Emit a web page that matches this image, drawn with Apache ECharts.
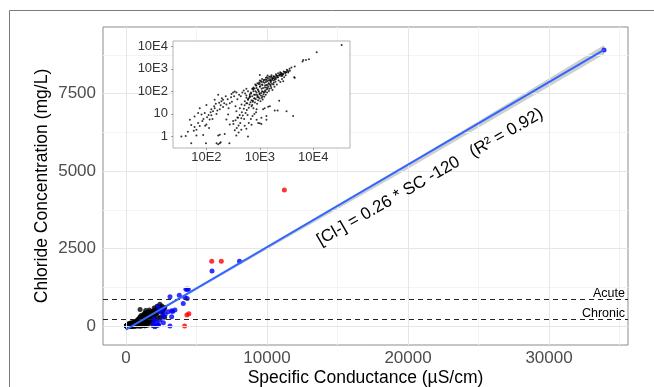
<!DOCTYPE html>
<html><head><meta charset="utf-8">
<script src="https://cdn.jsdelivr.net/npm/echarts@6/dist/echarts.min.js"></script>
<style>html,body{margin:0;padding:0;background:#fff}#c{width:654px;height:387px}</style>
</head><body><div id="c"></div>
<script>
// ---- main axes ----
const xTicks = [0, 10000, 20000, 30000];
const xMinor = [5000, 15000, 25000, 35000];
const yTicks = [0, 2500, 5000, 7500];
const yMinor = [1250, 3750, 6250, 8750];
const xRange = [-1630, 35600];
const yRange = [-613, 9655];

// ---- thresholds ----
const thresholdValues = [860, 230];
const thresholdNames = ['Acute', 'Chronic'];

// ---- regression line and confidence band ----
const regSC = [0, 33900];
const regCl = [-120, 8920];
const bandSC = [0, 10000, 20000, 33900];
const bandLo = [-150, 2480, 5080, 8770];
const bandHi = [-90, 2560, 5230, 9070];
const annoText = '[Cl-] = 0.26 * SC -120   (R\u00B2 = 0.92)';
const annoAt = [21560, 4806];

// ---- coloured points in the main panel ----
const bluePoints = [[33900,8910],[8050,2090],[6100,1780],[4250,1190],[4340,1190],[4420,1190],[3780,997],[3120,943],[4180,920],[4340,890],[4060,730],[3310,470],[3470,520],[3120,0],[2130,30],[2290,30],[2290,620],[2410,460],[2650,515],[3000,460],[3240,490],[1930,85],[2170,140],[2410,190],[2650,105],[2050,-20],[2630,300],[3240,300],[1980,230],[2780,380]];
const redPoints = [[11230,4390],[6080,2090],[6760,2090],[4460,396],[4320,354],[4160,0]];
const blackMaxSC = 2750;

// ---- inset (log-log) ----
const insetXTicks = [100, 1000, 10000];
const insetYTicks = [1, 10, 100, 1000, 10000];
const insetTickText = ['1', '10', '10E2', '10E3', '10E4'];
const insetXGrid = [31.6, 100, 316, 1000, 3162, 10000, 31623];
const insetYGrid = [1, 3.16, 10, 31.6, 100, 316, 1000, 3162, 10000];
const insetXRange = [23.7, 48700];
const insetYRange = [0.308, 17100];
const insetPoints = [
[52,0.5],[98,0.5],[155,0.5],[166,0.45],[178,0.5],[185,0.55],[269,0.5],
[34,1],[41,1.05],[65,1.1],[87,1.15],[166,1.1],[178,1.2],[220,1.3],[363,1.1],[600,1],
[52,3.2],[60,2.6],[75,2.9],[84,4.8],[100,3.4],[115,5.6],[112,2.4],[81,9.4],[93,11],[103,7.2],[124,8.8],[133,13],[154,10],[178,16],[205,20],[237,26],[274,30],[191,36],[173,31],[143,18],[124,16],[365,13],[422,18],[454,26],[392,6.7],[316,4.8],[274,3.4],[255,9.4],[237,5.6],[523,36],[562,52],[649,61],[70,11],[65,2],[49,5.5],[60,7.7],[75,18],[100,25],[143,42],[166,70],[205,42],[316,88],[340,98],[365,88],[295,77],
[45,1.6],[58,1.8],[70,4],[88,6],[95,3],[110,9],[120,12],[130,6],[140,22],[150,28],[160,14],[185,24],[195,50],[215,30],[230,60],[250,45],[260,18],[290,55],[300,35],[330,60],[350,22],[380,45],[410,70],[440,60],[470,90],[500,110],[530,80],[560,130],[600,100],
[320,3.6],[340,1.9],[350,5.2],[370,2.4],[380,7],[400,3.1],[420,9],[430,4],[450,6.5],[460,12],[480,8.5],[500,17],[510,6],[520,24],[540,11],[560,30],[570,15],[590,9],[600,42],[620,19],[640,26],[650,55],[670,33],[690,80],[700,22],[720,60],[740,38],[760,100],[780,48],[800,135],[820,70],[850,180],[870,88],[900,55],[920,120],[950,210],[980,75],[1000,160],[1050,290],[1080,130],[1100,200],[1150,95],[1200,330],[1250,150],[1300,260],[1350,420],[1400,190],[1450,310],[1500,440],[1600,280],[1650,520],[1700,370],[1800,470],[1900,330],[2000,580],[2100,410],[2200,640],[2300,500],[2400,700],[2500,560],[2600,480],[2800,760],[3000,640],[3200,900],[3400,760],[3600,1000],
[650,60],[700,40],[750,120],[800,50],[820,200],[880,70],[900,230],[950,55],[1000,80],[1000,300],[1050,65],[1100,100],[1100,350],[1150,140],[1200,90],[1250,180],[1300,400],[1350,150],[1400,500],[1500,210],[1600,250],[1700,330],[1800,300],[1900,380],[2000,350],[2200,420],[2500,480],[2700,540],
[600,45],[680,90],[720,130],[780,70],[830,100],[860,180],[940,110],[970,250],[1020,170],[1060,260],[1120,190],[1180,300],[1220,240],[1280,330],[1320,190],[1380,280],[1420,380],[1460,230],[1550,350],[1580,450],[1620,300],[1750,380],[1850,460],[1950,420],[2050,520],[2150,480],[2350,540],[2450,600],[2650,580],[2900,720],[3100,720],[3300,840],[580,30],[620,50],[740,35],[760,150],[960,95],[1120,60],[1250,110],[1400,130],[1600,170],[1800,200],
[720,25],[760,18],[810,32],[840,45],[890,28],[910,62],[930,40],[990,48],[1030,36],[1060,85],[1090,52],[1130,44],[1170,75],[1210,58],[1260,95],[1290,70],[1340,120],[1370,88],[1440,160],[1480,105],[1520,130],[1570,190],[1640,140],[1690,210],[1720,115],[1820,240],[1880,160],[1960,270],[2080,200],[2250,300],[2420,260],[2600,350],[2850,420],[3050,520],
[400,1.5],[450,2],[520,3],[560,2.2],[620,4],[680,6],[730,8],[790,10],[850,12],
[2300,38],[2150,14],[3160,13],[4200,8],[1430,21],[1150,16],[870,16],[1330,5.5],[870,5.5],[1000,3.9],[700,3.3],[1900,14],[1230,18],[1070,6.7],[930,4],[1070,3.6],[1330,8],[1540,22],
[4500,1250],[4400,420],[4500,400],[6300,2100],[6500,2450],[7300,2450],[8300,2650],[11600,5400],[34000,11400],[3650,820],[3900,1150],[3400,690],[3100,700],[2750,600],[2540,650],[2370,560],[2050,490],[1780,380],[1650,430],[1540,300],[1330,330],[1150,260],[1000,210],[870,140],[750,130],[650,75],[560,66],[1000,530],[2740,280]
];

const FONT = '"Liberation Sans", Arial, sans-serif';
const chart = echarts.init(document.getElementById('c'), null, {renderer: 'canvas'});

const mainBlack = insetPoints.filter(p => p[0] <= blackMaxSC);
const gridLine = (key, v, color) => ({[key]: v, lineStyle: {color: color, width: 1, type: 'solid'}});
const insetLabel = v => insetTickText[Math.round(Math.log10(v))];
const plainLabel = v => String(Math.round(v));

const option = {
  animation: false,
  textStyle: {fontFamily: FONT},
  grid: [
    {left: 103, right: 26, top: 27, bottom: 42, show: true, backgroundColor: '#fff', borderColor: '#8c8c8c', borderWidth: 1, z: 0, containLabel: false, outerBoundsMode: 'none'},
    {left: 173, top: 41, width: 177, height: 107, show: true, backgroundColor: '#fff', borderColor: '#b3b3b3', borderWidth: 1, z: 10, containLabel: false, outerBoundsMode: 'none'}
  ],
  xAxis: [
    {type: 'value', gridIndex: 0, min: xRange[0], max: xRange[1],
     name: 'Specific Conductance (\u00B5S/cm)', nameLocation: 'middle', nameGap: 24, nameMoveOverlap: false,
     nameTextStyle: {fontSize: 17.5, color: '#000', fontFamily: FONT},
     axisLine: {show: false}, splitLine: {show: false},
     axisTick: {show: true, customValues: xTicks, length: 4, lineStyle: {color: '#333'}},
     axisLabel: {customValues: xTicks, formatter: plainLabel, fontSize: 17, color: '#4d4d4d', margin: 5, fontFamily: FONT}},
    {type: 'log', gridIndex: 1, min: insetXRange[0], max: insetXRange[1], logBase: 10, z: 10,
     axisLine: {show: false}, splitLine: {show: false},
     axisTick: {show: true, customValues: insetXTicks, length: 2, lineStyle: {color: '#999'}},
     axisLabel: {customValues: insetXTicks, formatter: insetLabel, fontSize: 13, color: '#333', margin: 3, fontFamily: FONT}}
  ],
  yAxis: [
    {type: 'value', gridIndex: 0, min: yRange[0], max: yRange[1],
     name: 'Chloride Concentration (mg/L)', nameLocation: 'middle', nameGap: 52, nameMoveOverlap: false,
     nameTextStyle: {fontSize: 17.5, color: '#000', fontFamily: FONT},
     axisLine: {show: false}, splitLine: {show: false},
     axisTick: {show: true, customValues: yTicks, length: 4, lineStyle: {color: '#333'}},
     axisLabel: {customValues: yTicks, formatter: plainLabel, fontSize: 17, color: '#4d4d4d', margin: 7, fontFamily: FONT}},
    {type: 'log', gridIndex: 1, min: insetYRange[0], max: insetYRange[1], logBase: 10, z: 10,
     axisLine: {show: false}, splitLine: {show: false},
     axisTick: {show: true, customValues: insetYTicks, length: 2, lineStyle: {color: '#999'}},
     axisLabel: {customValues: insetYTicks, formatter: insetLabel, fontSize: 13, color: '#333', margin: 5, fontFamily: FONT}}
  ],
  series: [
    {type: 'scatter', xAxisIndex: 0, yAxisIndex: 0, data: [], z: 1, silent: true,
     markLine: {silent: true, symbol: 'none', animation: false, label: {show: false},
       data: [
         ...xMinor.map(v => gridLine('xAxis', v, '#f3f3f3')),
         ...yMinor.map(v => gridLine('yAxis', v, '#f3f3f3')),
         ...xTicks.map(v => gridLine('xAxis', v, '#e6e6e6')),
         ...yTicks.map(v => gridLine('yAxis', v, '#e6e6e6'))
       ]}},
    {type: 'custom', xAxisIndex: 0, yAxisIndex: 0, z: 2, silent: true, data: [[0, 0]],
     renderItem: (params, api) => {
       const pts = [];
       bandSC.forEach((x, i) => pts.push(api.coord([x, bandHi[i]])));
       for (let i = bandSC.length - 1; i >= 0; i--) pts.push(api.coord([bandSC[i], bandLo[i]]));
       return {type: 'polygon', shape: {points: pts}, style: {fill: '#cfcfcf'}};
     }},
    {type: 'scatter', xAxisIndex: 0, yAxisIndex: 0, data: [], z: 3, silent: true,
     markLine: {silent: true, symbol: 'none', animation: false,
       lineStyle: {type: [5, 4], color: '#222', width: 1.1},
       label: {show: true, position: 'insideEndTop', fontSize: 12.5, color: '#000', fontFamily: FONT, distance: [3, -1]},
       data: thresholdValues.map((v, i) => ({yAxis: v, label: {formatter: thresholdNames[i]}}))}},
    {type: 'scatter', xAxisIndex: 0, yAxisIndex: 0, z: 4, symbolSize: 5, itemStyle: {color: '#000'}, data: mainBlack},
    {type: 'scatter', xAxisIndex: 0, yAxisIndex: 0, z: 4, symbolSize: 5, itemStyle: {color: '#0000ff'}, data: bluePoints},
    {type: 'scatter', xAxisIndex: 0, yAxisIndex: 0, z: 4, symbolSize: 5, itemStyle: {color: '#ff0000'}, data: redPoints},
    {type: 'line', xAxisIndex: 0, yAxisIndex: 0, z: 5, showSymbol: false, silent: true,
     lineStyle: {color: '#3366ff', width: 2}, data: regSC.map((x, i) => [x, regCl[i]])},
    {type: 'scatter', xAxisIndex: 1, yAxisIndex: 1, data: [], z: 11, silent: true,
     markLine: {silent: true, symbol: 'none', animation: false, label: {show: false},
       data: [
         ...insetXGrid.map(v => gridLine('xAxis', v, '#ececec')),
         ...insetYGrid.map(v => gridLine('yAxis', v, '#ececec')),
         ...thresholdValues.map(v => ({yAxis: v, lineStyle: {color: '#9a9a9a', width: 1, type: [1.5, 1.5]}}))
       ]}},
    {type: 'scatter', xAxisIndex: 1, yAxisIndex: 1, z: 12, symbolSize: 2, itemStyle: {color: '#000'}, data: insetPoints}
  ]
};
chart.setOption(option);

const ap = chart.convertToPixel({gridIndex: 0}, annoAt);
chart.setOption({
  graphic: [
    {type: 'line', shape: {x1: 9.5, y1: 10.5, x2: 654, y2: 10.5}, style: {stroke: '#7a7a7a', lineWidth: 1}, silent: true},
    {type: 'line', shape: {x1: 9.5, y1: 10.5, x2: 9.5, y2: 387}, style: {stroke: '#7a7a7a', lineWidth: 1}, silent: true},
    {type: 'text', x: ap[0], y: ap[1], rotation: Math.PI / 6, z: 20, silent: true,
     style: {text: annoText, fontSize: 17, fontFamily: FONT, fill: '#000', align: 'center', verticalAlign: 'middle'}}
  ]
});
</script></body></html>
